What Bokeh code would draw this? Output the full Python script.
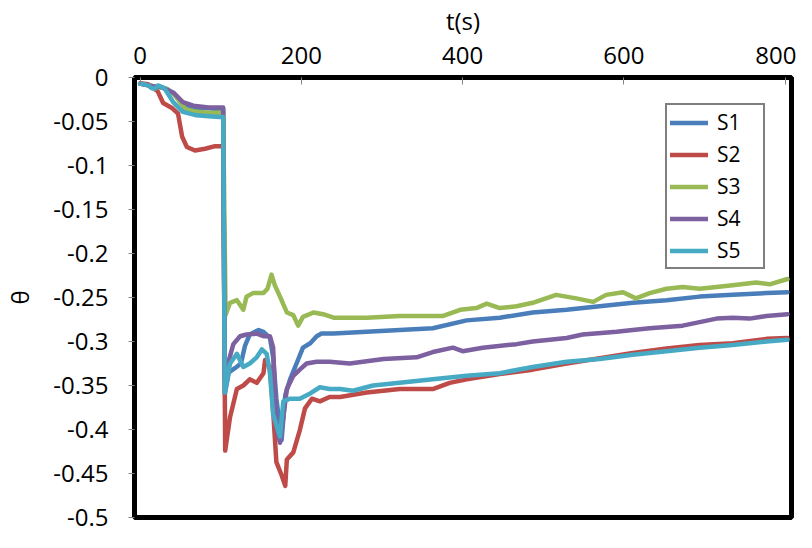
from bokeh.plotting import figure
from bokeh.models import Range1d, FixedTicker, Legend, LegendItem
from bokeh.embed import file_html
from bokeh.resources import INLINE

# ---- data ----
s1_t = [0, 10, 16, 25, 33, 41, 53, 66, 85, 99, 103, 105, 110, 118, 125, 130, 136, 147, 153, 161, 165, 169, 175.5, 180, 186, 194, 202, 211, 219, 225, 240, 281, 322, 363, 405, 446, 487, 529, 570, 611, 653, 694, 735, 777, 803]
s1_v = [-0.007, -0.009, -0.010, -0.011, -0.013, -0.018, -0.030, -0.034, -0.035, -0.036, -0.036, -0.360, -0.335, -0.330, -0.325, -0.305, -0.292, -0.287, -0.289, -0.296, -0.318, -0.365, -0.412, -0.361, -0.343, -0.325, -0.307, -0.302, -0.294, -0.291, -0.291, -0.289, -0.287, -0.285, -0.276, -0.273, -0.267, -0.264, -0.260, -0.256, -0.253, -0.249, -0.247, -0.245, -0.244]

s2_t = [0, 10, 22, 28.5, 40, 47, 52, 58, 68, 80.5, 93, 99, 103, 105.5, 111.5, 120, 128, 136, 144.6, 153, 155, 161, 165, 169, 175.5, 180, 182, 190, 198, 204.5, 213, 223, 235, 248, 281, 322, 363, 384, 405, 446, 487, 529, 570, 611, 653, 694, 735, 777, 803]
s2_v = [-0.0065, -0.0076, -0.016, -0.029, -0.035, -0.041, -0.067, -0.079, -0.083, -0.081, -0.078, -0.078, -0.078, -0.424, -0.386, -0.354, -0.350, -0.343, -0.347, -0.336, -0.321, -0.329, -0.379, -0.437, -0.452, -0.464, -0.434, -0.426, -0.401, -0.376, -0.365, -0.368, -0.363, -0.363, -0.358, -0.354, -0.354, -0.347, -0.343, -0.337, -0.332, -0.325, -0.319, -0.313, -0.308, -0.304, -0.302, -0.297, -0.296]

s3_t = [0, 10, 16, 25, 33, 43, 56, 70, 85, 99, 103, 106, 111.5, 120, 128, 132, 140, 153, 158, 163, 167, 173.5, 182, 190, 196, 202, 215, 227, 240, 260, 281, 322, 376, 397, 417, 430, 446, 467, 487, 516, 541, 562, 578, 599, 615, 632, 653, 673, 694, 715, 735, 764, 781, 803]
s3_v = [-0.007, -0.009, -0.010, -0.011, -0.013, -0.020, -0.036, -0.039, -0.040, -0.040, -0.040, -0.270, -0.256, -0.253, -0.264, -0.249, -0.245, -0.245, -0.240, -0.224, -0.236, -0.249, -0.267, -0.270, -0.282, -0.272, -0.267, -0.269, -0.273, -0.273, -0.273, -0.271, -0.271, -0.264, -0.262, -0.257, -0.262, -0.260, -0.256, -0.247, -0.251, -0.255, -0.247, -0.244, -0.251, -0.245, -0.240, -0.238, -0.240, -0.238, -0.236, -0.233, -0.235, -0.229]

s4_t = [0, 10, 16, 25, 41, 53, 66, 85, 99, 103, 105, 109, 115.6, 124, 132, 144.6, 153, 161, 165, 169, 173.5, 177.6, 182, 190, 198, 206.5, 219, 235, 260, 302, 343, 363, 388, 400, 425, 467, 487, 529, 549, 591, 611, 632, 673, 715, 735, 756, 777, 803]
s4_v = [-0.007, -0.009, -0.010, -0.0105, -0.017, -0.028, -0.032, -0.034, -0.034, -0.034, -0.343, -0.325, -0.303, -0.294, -0.292, -0.291, -0.294, -0.294, -0.307, -0.397, -0.415, -0.386, -0.354, -0.339, -0.332, -0.325, -0.323, -0.323, -0.325, -0.320, -0.318, -0.312, -0.307, -0.311, -0.307, -0.303, -0.300, -0.296, -0.292, -0.289, -0.287, -0.285, -0.282, -0.274, -0.273, -0.274, -0.271, -0.269]

s5_t = [0, 10, 14, 18, 22, 30, 41, 53, 70, 85, 99, 103, 105, 111.5, 120, 128, 136, 144.6, 151, 157, 161, 165, 173.5, 177.6, 186, 198, 211, 223, 235, 248, 264, 289, 322, 363, 405, 446, 487, 529, 570, 611, 653, 694, 735, 777, 803]
s5_v = [-0.007, -0.009, -0.012, -0.013, -0.009, -0.012, -0.028, -0.039, -0.043, -0.044, -0.045, -0.045, -0.358, -0.325, -0.314, -0.329, -0.325, -0.318, -0.309, -0.314, -0.336, -0.383, -0.408, -0.368, -0.365, -0.365, -0.359, -0.352, -0.354, -0.354, -0.356, -0.350, -0.347, -0.343, -0.339, -0.336, -0.329, -0.323, -0.320, -0.315, -0.311, -0.307, -0.304, -0.300, -0.298]

names = ["S1", "S2", "S3", "S4", "S5"]
colors = ["#4A7EBB", "#BE4B48", "#98B954", "#7D60A0", "#46AAC5"]
x_ticks = [0, 200, 400, 600, 800]
y_ticks = [0, -0.05, -0.1, -0.15, -0.2, -0.25, -0.3, -0.35, -0.4, -0.45, -0.5]
y_tick_labels = ["0", "-0.05", "-0.1", "-0.15", "-0.2", "-0.25", "-0.3", "-0.35", "-0.4", "-0.45", "-0.5"]

FONT = "Open Sans"

p = figure(width=796, height=532, output_backend="svg", toolbar_location=None,
           x_axis_location="above",
           x_range=Range1d(-7, 808), y_range=Range1d(-0.5, 0.0),
           min_border_left=126, min_border_right=5, min_border_top=70, min_border_bottom=15)

p.xgrid.visible = False
p.ygrid.visible = False
p.outline_line_color = "black"
p.outline_line_width = 5
p.background_fill_color = "white"
p.border_fill_color = "white"

series = [(s1_t, s1_v), (s2_t, s2_v), (s3_t, s3_v), (s4_t, s4_v), (s5_t, s5_v)]
items = []
for (t, v), n, c in zip(series, names, colors):
    r = p.line(t, v, line_color=c, line_width=4.5, line_join="round", line_cap="round")
    items.append(LegendItem(label=n, renderers=[r]))

# x axis (top)
xa = p.xaxis[0]
xa.ticker = FixedTicker(ticks=x_ticks)
xa.axis_line_color = None
xa.major_tick_in = 7
xa.major_tick_out = 0
xa.major_tick_line_color = "#868686"
xa.minor_tick_line_color = None
xa.major_label_text_font = FONT
xa.major_label_text_font_size = "24px"
xa.major_label_text_color = "black"
xa.major_label_standoff = 14
xa.axis_label = "t(s)"
xa.axis_label_text_font = FONT
xa.axis_label_text_font_size = "24px"
xa.axis_label_text_font_style = "normal"
xa.axis_label_text_color = "black"
xa.axis_label_standoff = 7

# y axis (left)
ya = p.yaxis[0]
ya.ticker = FixedTicker(ticks=y_ticks)
ya.major_label_overrides = {t: l for t, l in zip(y_ticks, y_tick_labels)}
ya.axis_line_color = None
ya.major_tick_in = 0
ya.major_tick_out = 6
ya.major_tick_line_color = "#868686"
ya.minor_tick_line_color = None
ya.major_label_text_font = FONT
ya.major_label_text_font_size = "24px"
ya.major_label_text_color = "black"
ya.major_label_standoff = 20
ya.axis_label = "θ"
ya.axis_label_text_font = FONT
ya.axis_label_text_font_size = "24px"
ya.axis_label_text_font_style = "normal"
ya.axis_label_text_color = "black"
ya.axis_label_standoff = 14

legend = Legend(items=items, location="top_right", margin=26, padding=3,
                glyph_width=38, glyph_height=25, label_height=25, label_width=43,
                label_standoff=9, spacing=4,
                label_text_font=FONT, label_text_font_size="21px", label_text_color="black",
                border_line_color="black", border_line_width=2.5,
                background_fill_color="white", background_fill_alpha=1.0)
p.add_layout(legend, "center")

open("out.html", "w").write(file_html(p, INLINE))
